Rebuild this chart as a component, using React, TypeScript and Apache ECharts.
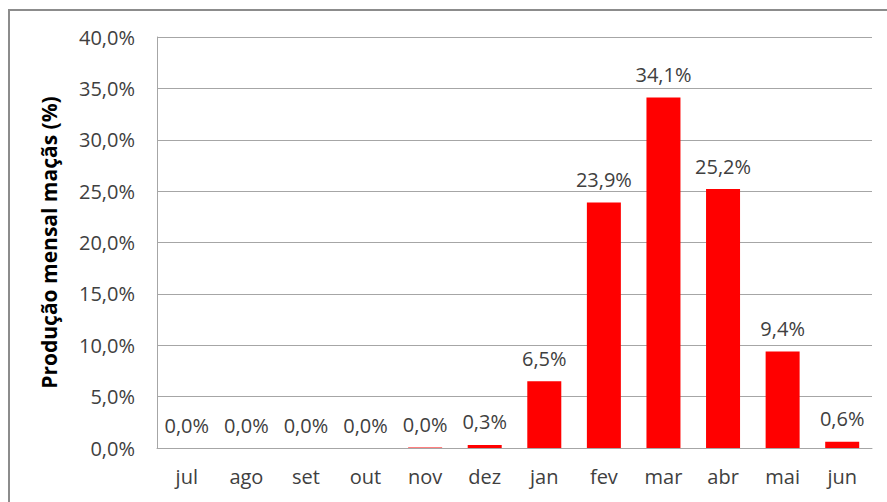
import React, { useEffect, useRef } from "react";
import * as echarts from "echarts";

const months = ["jul", "ago", "set", "out", "nov", "dez", "jan", "fev", "mar", "abr", "mai", "jun"];
const production = [0, 0, 0, 0, 0.04, 0.3, 6.5, 23.9, 34.1, 25.2, 9.4, 0.6];
const yTitle = "Produção mensal maçãs (%)";

const fmt = (v: number) => v.toFixed(1).replace(".", ",") + "%";
const FONT = "Open Sans";

export default function App() {
  const ref = useRef<HTMLDivElement>(null);
  useEffect(() => {
    const chart = echarts.init(ref.current!, null, { renderer: "svg" });
    chart.setOption({
      animation: false,
      backgroundColor: "#ffffff",
      graphic: [
        {
          type: "rect",
          shape: { x: 9, y: 10, width: 900, height: 520 },
          style: { fill: "none", stroke: "#8c8c8c", lineWidth: 2 },
          silent: true,
        },
      ],
      grid: { left: 157, right: 15, top: 37, bottom: 54, containLabel: false },
      xAxis: {
        type: "category",
        data: months,
        axisLine: { show: true, lineStyle: { color: "#a6a6a6", width: 1 } },
        axisTick: { show: false },
        axisLabel: { color: "#404040", fontSize: 20, fontFamily: FONT, margin: 18 },
      },
      yAxis: {
        type: "value",
        min: 0,
        max: 40,
        interval: 5,
        name: yTitle,
        nameLocation: "middle",
        nameGap: 98,
        nameTextStyle: { color: "#000000", fontSize: 21, fontWeight: "bold", fontFamily: FONT },
        axisLine: { show: true, lineStyle: { color: "#a6a6a6", width: 1 } },
        axisTick: { show: false },
        axisLabel: {
          color: "#404040",
          fontSize: 20,
          fontFamily: FONT,
          margin: 22,
          formatter: (v: number) => fmt(v),
        },
        splitLine: { show: true, lineStyle: { color: "#a6a6a6", width: 1 } },
      },
      series: [
        {
          type: "bar",
          data: production,
          barWidth: 34,
          itemStyle: { color: "#ff0000" },
          label: {
            show: true,
            position: "top",
            distance: 13,
            color: "#404040",
            fontSize: 20,
            fontFamily: FONT,
            formatter: (p: any) => fmt(p.value),
          },
        },
      ],
    });
    return () => chart.dispose();
  }, []);
  return <div ref={ref} style={{ position: "fixed", left: 0, top: 0, width: 887, height: 502 }} />;
}
